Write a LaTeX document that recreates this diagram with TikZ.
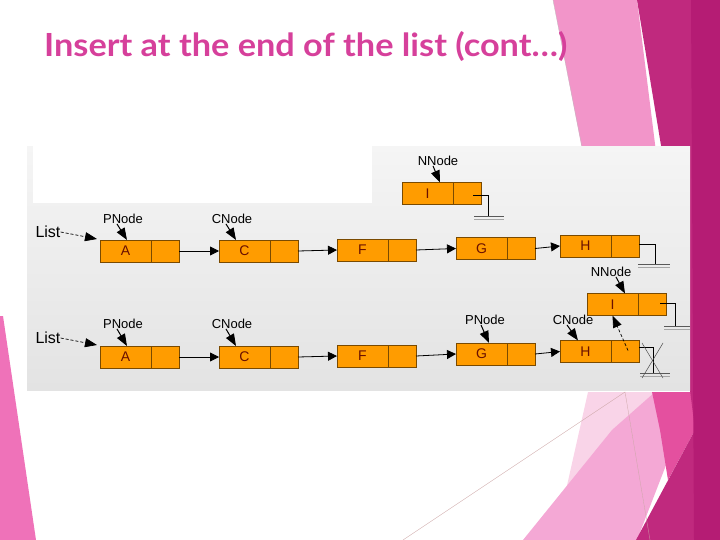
\documentclass[tikz,border=0pt]{standalone}
\usepackage{fontspec}
\setmainfont{Liberation Sans}
\newfontfamily\titlefont{Lato}
\usetikzlibrary{arrows.meta,calc}
\definecolor{nodefill}{HTML}{FF9C00}
\definecolor{nodeedge}{HTML}{7A4A00}
\definecolor{nodetext}{HTML}{6A1000}
\definecolor{titlepink}{HTML}{D6409B}
\definecolor{magdark}{HTML}{C0297E}
\definecolor{magdeep}{HTML}{B51C74}
\definecolor{pinkmid}{HTML}{E4509F}
\definecolor{pinklight}{HTML}{F295C9}
\definecolor{pinkpale}{HTML}{F4A8D5}
\definecolor{pinkfaint}{HTML}{F9D4E8}
\definecolor{pinkleft}{HTML}{EF72B9}
\tikzset{
  datacell/.style={draw=nodeedge, fill=nodefill, minimum width=51pt, minimum height=22pt,
    inner sep=0pt, outer sep=0pt, line width=0.6pt, text=nodetext,
    font=\fontsize{14}{14}\selectfont, anchor=west},
  ptrcell/.style={draw=nodeedge, fill=nodefill, minimum width=28pt, minimum height=22pt,
    inner sep=0pt, outer sep=0pt, line width=0.6pt, anchor=west},
  lbl/.style={font=\fontsize{13}{13}\selectfont, inner sep=0pt},
  listlbl/.style={font=\fontsize{16}{16}\selectfont, inner sep=0pt},
  link/.style={-{Triangle[length=9pt,width=9pt]}, line width=0.8pt},
  ptrarrow/.style={-{Triangle[length=12pt,width=9pt]}, line width=1pt},
  dasharr/.style={densely dashed, -{Triangle[length=12pt,width=9pt]}, line width=0.7pt},
  wire/.style={line width=0.7pt},
  gndA/.style={line width=0.7pt, black!65},
  gndB/.style={line width=0.7pt, black!35},
}
\newcommand\mklnode[4]{\node[datacell] (#1) at (#2,#3) {#4}; \node[ptrcell] (#1p) at (#1.east) {};}
\newcommand\mkground[3]{\draw[gndA] ($(#1)+(#2,0)$) -- ($(#1)+(#3,0)$);
  \draw[gndB] ($(#1)+(#2,3)$) -- ($(#1)+(#3,3)$);}
\begin{document}
\begin{tikzpicture}[x=1pt,y=-1pt]
\useasboundingbox (0,0) rectangle (720,540);
% background decoration
\fill[pinklight] (553,0) -- (637,0) -- (662,200) -- (592,200) -- cycle;
\fill[pinkfaint] (588,392) -- (655,392) -- (566,490) -- cycle;
\fill[pinkpale] (523,540) -- (612,430) -- (655,392) -- (668,460) -- (637,540) -- cycle;
\fill[pinkmid] (652,392) -- (693,392) -- (695,430) -- (668,480) -- (660,430) -- cycle;
\fill[magdark] (637,0) -- (720,0) -- (720,540) -- (636,540) -- (695,430) -- (690,390) -- (670,200) -- cycle;
\fill[magdeep] (691,0) -- (720,0) -- (720,540) -- (694,540) -- cycle;
\fill[pinkleft] (0,316) -- (3,316) -- (36,540) -- (0,540) -- cycle;
\draw[line width=0.3pt, pink!60!gray] (403,540) -- (625,392) -- (650,540);
\draw[line width=0.3pt, gray!50] (553,0) -- (582,147);
% title
\node[anchor=base west, text=titlepink, inner sep=0pt] (title) at (44,57)
  {\resizebox{523pt}{25pt}{\titlefont\bfseries Insert at the end of the list (cont…)}};
% panel
\shade[top color=black!4, bottom color=black!11] (27,147) rectangle (690,390);
\fill[white] (33,146) rectangle (372,203);
% row 1
\mklnode{A1}{100}{251}{A}
\mklnode{C1}{219}{251}{C}
\mklnode{F1}{337}{250}{F}
\mklnode{G1}{456}{248.5}{G}
\mklnode{H1}{560}{246}{H}
\mklnode{I1}{402}{193.5}{I}
\draw[link] (A1p.east) -- (C1.west);
\draw[link] (C1p.east) -- (F1.west);
\draw[link] (F1p.east) -- (G1.west);
\draw[link] (G1p.east) -- (H1.west);
\node[listlbl] (L1) at (48,232) {List};
\node[lbl] (P1) at (123,219) {PNode};
\node[lbl] (Cn1) at (232,219) {CNode};
\node[lbl] (N1) at (438,161) {NNode};
\draw[dasharr] (L1.east) -- ([xshift=-3pt,yshift=1pt]A1.north west);
\draw[ptrarrow] ([xshift=-6pt]P1.south) -- ([xshift=1.5pt]A1.north);
\draw[ptrarrow] ([xshift=-6pt]Cn1.south) -- ([xshift=-8.5pt]C1.north);
\draw[ptrarrow] ([xshift=-5pt]N1.south) -- ([xshift=12.5pt]I1.north);
\coordinate (gI1) at (488,216);
\draw[wire] ([xshift=6pt,yshift=-2pt]I1p.center) -| (gI1);
\mkground{gI1}{-14}{16}
\coordinate (gH1) at (655,264);
\draw[wire] ([yshift=2pt]H1p.east) -| (gH1);
\mkground{gH1}{-17}{15}
% row 2
\mklnode{A2}{100}{357}{A}
\mklnode{C2}{219}{357}{C}
\mklnode{F2}{337}{356}{F}
\mklnode{G2}{456}{354}{G}
\mklnode{H2}{560}{351.5}{H}
\mklnode{I2}{587}{304.5}{I}
\draw[link] (A2p.east) -- (C2.west);
\draw[link] (C2p.east) -- (F2.west);
\draw[link] (F2p.east) -- (G2.west);
\draw[link] (G2p.east) -- (H2.west);
\node[listlbl] (L2) at (48,338) {List};
\node[lbl] (P2) at (123,324) {PNode};
\node[lbl] (Cn2) at (232,324) {CNode};
\node[lbl] (P3) at (485,320) {PNode};
\node[lbl] (Cn3) at (573,320) {CNode};
\node[lbl] (N2) at (611,272) {NNode};
\draw[dasharr] (L2.east) -- ([xshift=-3pt,yshift=1pt]A2.north west);
\draw[ptrarrow] ([xshift=-6pt]P2.south) -- ([xshift=1.5pt]A2.north);
\draw[ptrarrow] ([xshift=-6pt]Cn2.south) -- ([xshift=-8.5pt]C2.north);
\draw[ptrarrow] ([xshift=-4pt]P3.south) -- ([xshift=7.5pt]G2.north);
\draw[ptrarrow] ([xshift=-6pt]Cn3.south) -- ([xshift=-7.5pt]H2.north);
\draw[ptrarrow] ([xshift=5pt]N2.south) -- ([xshift=12.5pt]I2.north);
\draw[dasharr] ([xshift=3pt,yshift=1pt]H2p.center) -- (I2.south);
\coordinate (gI2) at (675,326);
\draw[wire] ([xshift=8pt,yshift=1.5pt]I2p.center) -| (gI2);
\mkground{gI2}{-11}{15}
\coordinate (gH2) at (653,373);
\draw[wire] ([yshift=4.5pt]H2p.east) -| (gH2);
\mkground{gH2}{-13}{17}
\coordinate (xa) at (642,343);
\coordinate (xb) at (663,378);
\coordinate (xc) at (663,343);
\coordinate (xd) at (642,378);
\draw[line width=0.5pt, black!70] (xa) -- (xb);
\draw[line width=0.5pt, black!70] (xc) -- (xd);
\end{tikzpicture}
\end{document}
